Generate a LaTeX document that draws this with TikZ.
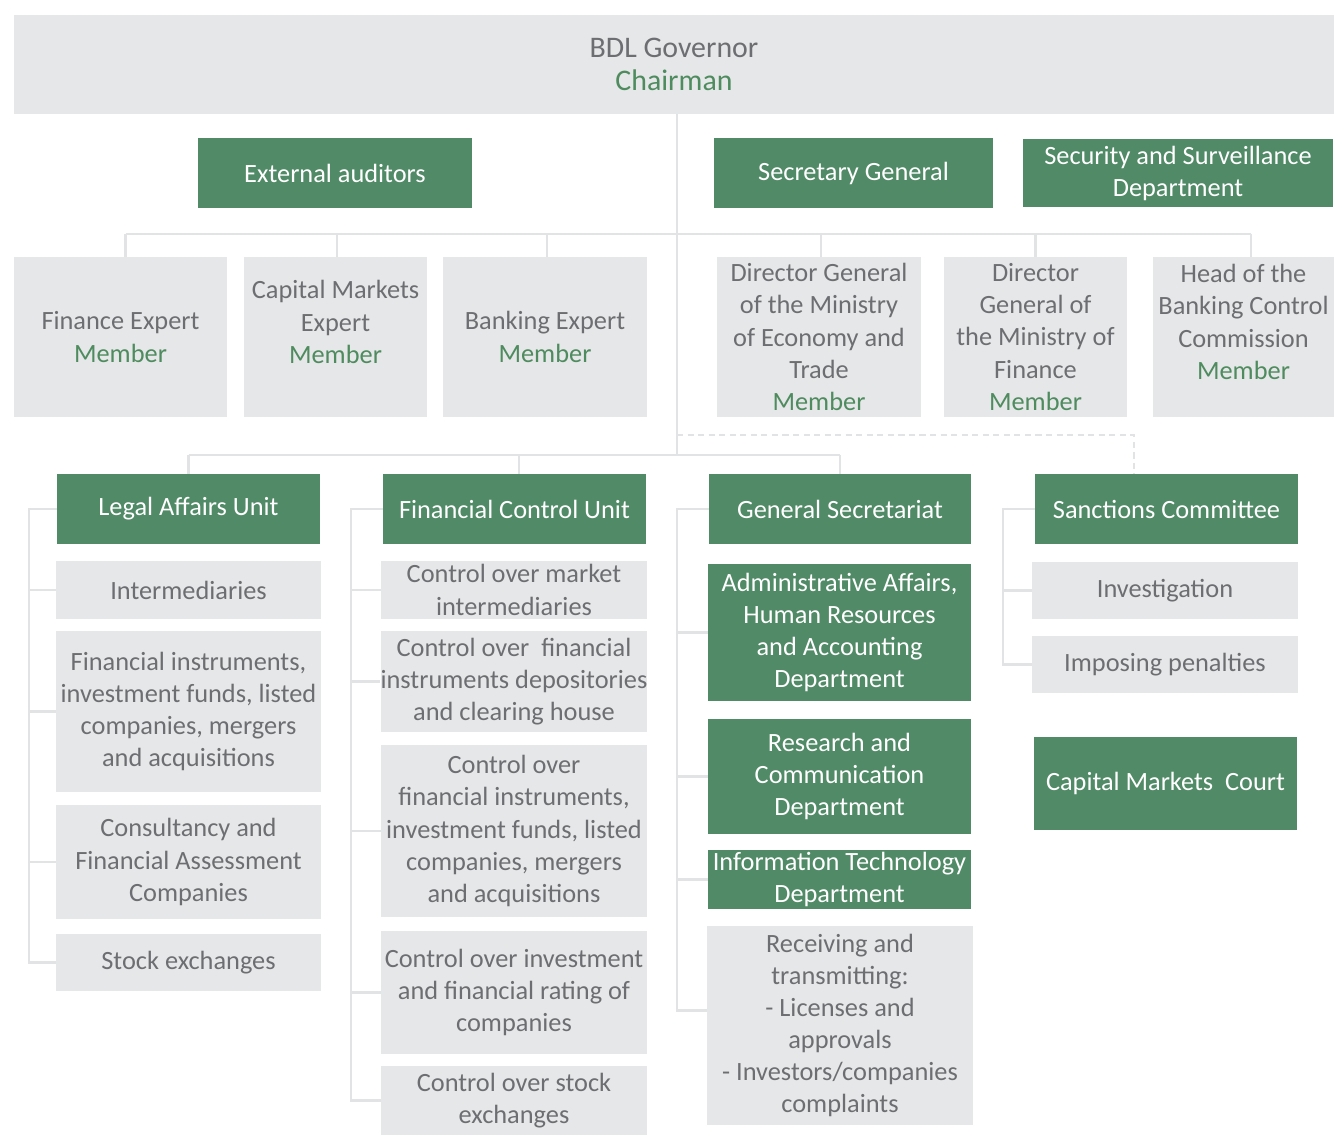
\documentclass[tikz,border=0pt]{standalone}
\usepackage{fontspec}
\setmainfont{Carlito}
\usepackage{tikz}
\usetikzlibrary{positioning, calc}
\definecolor{unitgreen}{HTML}{518A66}
\definecolor{panelgray}{HTML}{E6E7E8}
\definecolor{inkgray}{HTML}{6D6E71}
\definecolor{membergreen}{HTML}{4E8B5E}
\definecolor{railgray}{HTML}{E2E3E4}
\tikzset{
  box/.style={inner sep=0pt, align=center, font=\fontsize{15}{18.3}\selectfont},
  greenbox/.style={box, fill=unitgreen, text=white},
  graybox/.style={box, fill=panelgray, text=inkgray},
  graytext/.style={box, text=inkgray},
  sz/.style 2 args={minimum width=#1*0.02cm, minimum height=#2*0.02cm},
  link/.style={draw=railgray, line width=1.2pt},
  dashlink/.style={link, dash pattern=on 3.5pt off 2.5pt},
}
\newcommand{\member}{\textcolor{membergreen}{Member}}

\begin{document}
\begin{tikzpicture}[x=0.02cm, y=-0.02cm]
  \fill[white] (0,0) rectangle (1336,1135);
  \useasboundingbox (0,0) rectangle (1336,1135);

  % Board head
  \node[graybox, sz={1320}{99}, font=\fontsize{17}{18.8}\selectfont] (gov) at (674,64.5)
    {BDL Governor\\\textcolor{membergreen}{Chairman}};

  % Attached bodies
  \node[greenbox, sz={274}{70}] (ext) at (335,173) {External auditors};
  \node[greenbox, sz={279}{70}] (secgen) at (853.5,173) {Secretary General};
  \node[greenbox, sz={310}{68}] (secur) at (1178,173.5) {Security and Surveillance\\Department};

  % Board members
  \node[graybox, sz={213}{160}] (finexp) at (120.5,337) {Finance Expert\\\member};
  \node[graybox, sz={183}{160}] (capexp) at (335.5,337) {};
  \node[graytext] (capexptext) at (335.5,322) {Capital Markets\\Expert\\\member};
  \node[graybox, sz={204}{160}] (banking) at (545,337) {Banking Expert\\\member};
  \node[graybox, sz={204}{160}] (dgeco) at (819,337) {Director General\\of the Ministry\\of Economy and\\Trade\\\member};
  \node[graybox, sz={183}{160}] (dgfin) at (1035.5,337) {Director\\General of\\the Ministry of\\Finance\\\member};
  \node[graybox, sz={181}{160}] (headbcc) at (1243.5,337) {};
  \node[graytext] (headbcctext) at (1243.5,322) {Head of the\\Banking Control\\Commission\\\member};

  % Units
  \node[greenbox, sz={263}{70}] (legal) at (188.5,509) {Legal Affairs Unit};
  \node[greenbox, sz={263}{70}] (finctl) at (514.5,509) {Financial Control Unit};
  \node[greenbox, sz={262}{70}] (gensec) at (840,509) {General Secretariat};
  \node[greenbox, sz={263}{70}] (sanc) at (1166.5,509) {Sanctions Committee};

  % Legal Affairs column
  \node[graybox, sz={265}{58}] (inter) at (188.5,590) {Intermediaries};
  \node[graybox, sz={265}{161}] (fininst) at (188.5,711.5) {Financial instruments,\\investment funds, listed\\companies, mergers\\and acquisitions};
  \node[graybox, sz={265}{114}] (consult) at (188.5,862) {Consultancy and\\Financial Assessment\\Companies};
  \node[graybox, sz={265}{57}] (stock) at (188.5,962.5) {Stock exchanges};

  % Financial Control column
  \node[graybox, sz={266}{58}] (ctlmkt) at (514,590) {Control over market\\intermediaries};
  \node[graybox, sz={266}{101}] (ctldep) at (514,681.5) {Control over\ \ financial\\instruments depositories\\and clearing house};
  \node[graybox, sz={266}{172}] (ctlinv) at (514,831) {Control over\\financial instruments,\\investment funds, listed\\companies, mergers\\and acquisitions};
  \node[graybox, sz={266}{123}] (ctlrat) at (514,992.5) {Control over investment\\and financial rating of\\companies};
  \node[graybox, sz={266}{69}] (ctlstk) at (514,1100.5) {Control over stock\\exchanges};

  % General Secretariat column
  \node[greenbox, sz={263}{137}] (admin) at (839.5,632.5) {Administrative Affairs,\\Human Resources\\and Accounting\\Department};
  \node[greenbox, sz={263}{115}] (research) at (839.5,776.5) {Research and\\Communication\\Department};
  \node[greenbox, sz={263}{59}] (itdept) at (839.5,879.5) {Information Technology\\Department};
  \node[graybox, sz={266}{199}] (recv) at (840,1025.5) {Receiving and\\transmitting:\\- Licenses and\\approvals\\- Investors/companies\\complaints};

  % Sanctions column
  \node[graybox, sz={266}{57}] (invest) at (1165,590.5) {Investigation};
  \node[graybox, sz={266}{57}] (impose) at (1165,664.5) {Imposing penalties};
  \node[greenbox, sz={263}{93}] (court) at (1165.5,783.5) {Capital Markets\ \ Court};

  % Buses and rails
  \coordinate (topbus) at (677,234);
  \coordinate (unitbus) at (677,455);
  \coordinate (dashbus) at (677,435);
  \coordinate (dashdrop) at (1134,435);
  \coordinate (legalrail) at (29,0);
  \coordinate (finrail) at (351,0);
  \coordinate (gsrail) at (677,0);
  \coordinate (sancrail) at (1003,0);
  \coordinate (recvtap) at ($(recv.west)+(0,-15)$);

  % Trunk and member bus
  \draw[link] (gov.south -| topbus) -- (unitbus);
  \draw[link] ([xshift=0.1cm]finexp.north |- topbus) -- ([xshift=0.15cm]headbcc.north |- topbus);
  \foreach \m/\dx in {finexp/0.1,capexp/0.03,banking/0.04,dgeco/0.04,dgfin/0,headbcc/0.15}
    \draw[link] ([xshift=\dx cm]\m.north |- topbus) -- ([xshift=\dx cm]\m.north);

  % Unit bus
  \draw[link] (legal.north |- unitbus) -- (gensec.north |- unitbus);
  \foreach \u/\dx in {legal/0,finctl/0.09,gensec/0}
    \draw[link] ([xshift=\dx cm]\u.north |- unitbus) -- ([xshift=\dx cm]\u.north);
  \draw[dashlink] (dashbus) -- (dashdrop) -- (dashdrop |- sanc.north);

  % Column rails
  \draw[link] (legal.west) -- (legal.west -| legalrail) -- (stock.west -| legalrail) -- (stock.west);
  \foreach \b in {inter,fininst,consult}
    \draw[link] (\b.west -| legalrail) -- (\b.west);
  \draw[link] (finctl.west) -- (finctl.west -| finrail) -- (ctlstk.west -| finrail) -- (ctlstk.west);
  \foreach \b in {ctlmkt,ctldep,ctlinv,ctlrat}
    \draw[link] (\b.west -| finrail) -- (\b.west);
  \draw[link] (gensec.west) -- (gensec.west -| gsrail) -- (recvtap -| gsrail) -- (recvtap);
  \foreach \b in {admin,research,itdept}
    \draw[link] (\b.west -| gsrail) -- (\b.west);
  \draw[link] (sanc.west) -- (sanc.west -| sancrail) -- (impose.west -| sancrail) -- (impose.west);
  \draw[link] (invest.west -| sancrail) -- (invest.west);
\end{tikzpicture}
\end{document}
